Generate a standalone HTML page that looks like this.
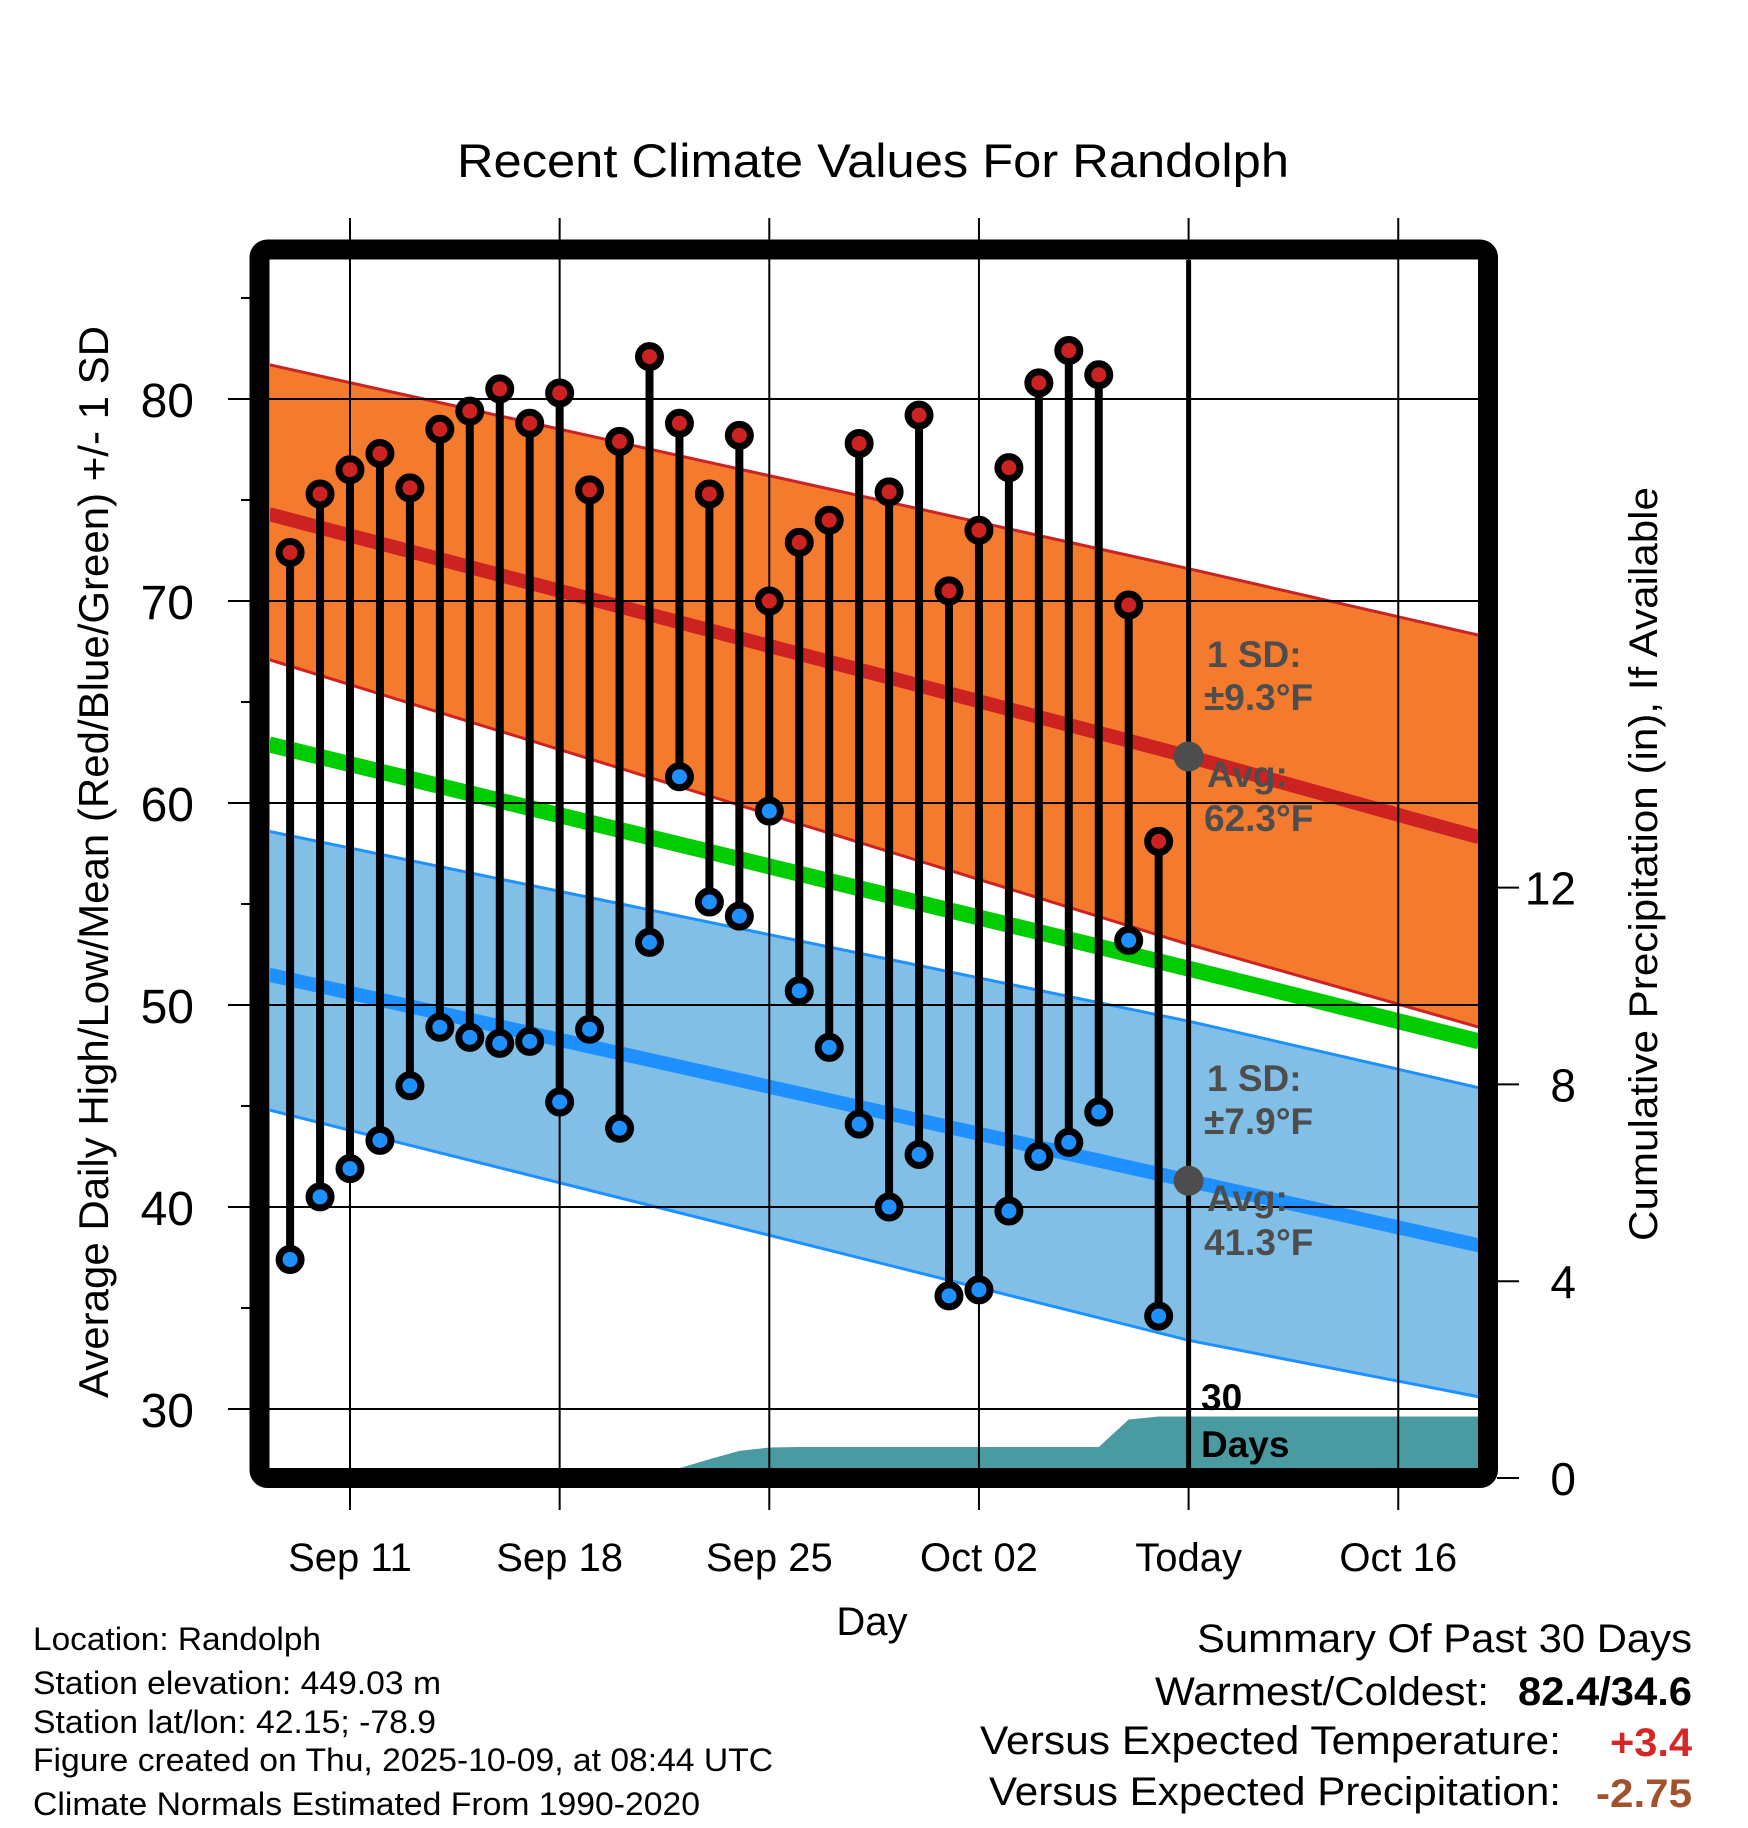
<!DOCTYPE html>
<html><head><meta charset="utf-8"><style>
html,body{margin:0;padding:0;background:#fff}
svg{display:block}
text{font-family:"Liberation Sans",Arial,sans-serif}
</style></head><body>
<svg id="chart" xmlns="http://www.w3.org/2000/svg" width="1748" height="1828" viewBox="0 0 1748 1828">
<defs><clipPath id="plotclip"><rect x="270" y="260" width="1208" height="1208"/></clipPath></defs>
<rect width="1748" height="1828" fill="#fff"/>
<g id="bands" clip-path="url(#plotclip)"></g>
<g id="precip" clip-path="url(#plotclip)"></g>
<g id="grid"></g>
<g id="marks"></g>
<g id="labels">
<text x="1207" y="667" font-size="37" font-weight="bold" fill="#4d4d4d">1 SD:</text>
<text x="1204" y="710" font-size="37" font-weight="bold" fill="#4d4d4d">±9.3°F</text>
<text x="1207" y="787" font-size="37" font-weight="bold" fill="#4d4d4d">Avg:</text>
<text x="1204" y="831" font-size="37" font-weight="bold" fill="#4d4d4d">62.3°F</text>
<text x="1207" y="1091" font-size="37" font-weight="bold" fill="#4d4d4d">1 SD:</text>
<text x="1204" y="1134" font-size="37" font-weight="bold" fill="#4d4d4d">±7.9°F</text>
<text x="1207" y="1211" font-size="37" font-weight="bold" fill="#4d4d4d">Avg:</text>
<text x="1204" y="1255" font-size="37" font-weight="bold" fill="#4d4d4d">41.3°F</text>
<text x="1201" y="1410" font-size="37" font-weight="bold" fill="#000">30</text>
<text x="1201" y="1457" font-size="37" font-weight="bold" fill="#000">Days</text>
</g>
<rect x="259.5" y="249.5" width="1228.5" height="1228.5" rx="8" fill="none" stroke="#000" stroke-width="20"/>
<g id="axes"></g>
<text x="873" y="177" font-size="47" text-anchor="middle" textLength="832" lengthAdjust="spacingAndGlyphs">Recent Climate Values For Randolph</text>
<text transform="translate(108,862) rotate(-90)" font-size="42" text-anchor="middle" textLength="1072" lengthAdjust="spacingAndGlyphs">Average Daily High/Low/Mean (Red/Blue/Green) +/- 1 SD</text>
<text transform="translate(1657,864) rotate(-90)" font-size="40" text-anchor="middle" textLength="754" lengthAdjust="spacingAndGlyphs">Cumulative Precipitation (in), If Available</text>
<text x="872" y="1635" font-size="40" text-anchor="middle">Day</text>
<g font-size="32">
<text x="33" y="1650" textLength="288" lengthAdjust="spacingAndGlyphs">Location: Randolph</text>
<text x="33" y="1694" textLength="408" lengthAdjust="spacingAndGlyphs">Station elevation: 449.03 m</text>
<text x="33" y="1733" textLength="403" lengthAdjust="spacingAndGlyphs">Station lat/lon: 42.15; -78.9</text>
<text x="33" y="1771" textLength="740" lengthAdjust="spacingAndGlyphs">Figure created on Thu, 2025-10-09, at 08:44 UTC</text>
<text x="33" y="1815" textLength="667" lengthAdjust="spacingAndGlyphs">Climate Normals Estimated From 1990-2020</text>
</g>
<g font-size="40">
<text x="1692" y="1652" text-anchor="end" textLength="495" lengthAdjust="spacingAndGlyphs">Summary Of Past 30 Days</text>
<text x="1489" y="1705" text-anchor="end" textLength="334" lengthAdjust="spacingAndGlyphs">Warmest/Coldest:</text>
<text x="1692" y="1705" text-anchor="end" font-weight="bold" textLength="174" lengthAdjust="spacingAndGlyphs">82.4/34.6</text>
<text x="1561" y="1754" text-anchor="end" textLength="581" lengthAdjust="spacingAndGlyphs">Versus Expected Temperature:</text>
<text x="1692" y="1756" text-anchor="end" font-weight="bold" fill="#d62728" textLength="82" lengthAdjust="spacingAndGlyphs">+3.4</text>
<text x="1561" y="1805" text-anchor="end" textLength="572" lengthAdjust="spacingAndGlyphs">Versus Expected Precipitation:</text>
<text x="1692" y="1807" text-anchor="end" font-weight="bold" fill="#a0522d" textLength="96" lengthAdjust="spacingAndGlyphs">-2.75</text>
</g>
</svg>
<script>
// ---- data ----
const dates = ["2025-09-09","2025-09-10","2025-09-11","2025-09-12","2025-09-13","2025-09-14","2025-09-15","2025-09-16","2025-09-17","2025-09-18","2025-09-19","2025-09-20","2025-09-21","2025-09-22","2025-09-23","2025-09-24","2025-09-25","2025-09-26","2025-09-27","2025-09-28","2025-09-29","2025-09-30","2025-10-01","2025-10-02","2025-10-03","2025-10-04","2025-10-05","2025-10-06","2025-10-07","2025-10-08"];
const highs = [72.4,75.3,76.5,77.3,75.6,78.5,79.4,80.5,78.8,80.3,75.5,77.9,82.1,78.8,75.3,78.2,70.0,72.9,74.0,77.8,75.4,79.2,70.5,73.5,76.6,80.8,82.4,81.2,69.8,58.1];
const lows = [37.4,40.5,41.9,43.3,46.0,48.9,48.4,48.1,48.2,45.2,48.8,43.9,53.1,61.3,55.1,54.4,59.6,50.7,47.9,44.1,40.0,42.6,35.6,35.9,39.8,42.5,43.2,44.7,53.2,34.6];
const precipCum = [0,0,0,0,0,0,0,0,0,0,0,0,0,0.2,0.38,0.55,0.62,0.63,0.63,0.63,0.63,0.63,0.63,0.63,0.63,0.63,0.63,0.63,1.19,1.25];
const normDates = ["2025-09-08","2025-10-09","2025-10-19"];
const normOffsets = [0.3,0,-0.3];
const hiUpper = [81.7,71.6,68.3];
const hiMean = [74.3,62.3,58.3];
const hiLower = [67.1,53.0,48.9];
const meanT = [62.9,51.8,48.2];
const loUpper = [58.6,49.2,45.9];
const loMean = [51.5,41.3,38.1];
const loLower = [44.8,33.4,30.6];
const todayDate = "2025-10-09";
const todayHiAvg = 62.3;
const todayLoAvg = 41.3;
const xTickDates = ["2025-09-11","2025-09-18","2025-09-25","2025-10-02","2025-10-09","2025-10-16"];
const xTickLabels = ["Sep 11","Sep 18","Sep 25","Oct 02","Today","Oct 16"];
const yTicks = [30,40,50,60,70,80];
const yMinor = [35,45,55,65,75,85];
const pTicks = [0,4,8,12];

// ---- scales ----
const NS = "http://www.w3.org/2000/svg";
const base = Date.UTC(2025,8,11);
function dayOf(s){const p=s.split("-");return (Date.UTC(+p[0],+p[1]-1,+p[2])-base)/86400000;}
function x(d){return 350+29.95*d;}
function y(t){return 399+(80-t)*20.2;}
function yp(p){return 1478-p*49.2;}
function mk(parent,tag,attrs){const e=document.createElementNS(NS,tag);for(const k in attrs)e.setAttribute(k,attrs[k]);parent.appendChild(e);return e;}
const nd = normDates.map((s,i)=>dayOf(s)+normOffsets[i]);
function pts(arr){return arr.map((v,i)=>x(nd[i]).toFixed(1)+","+y(v).toFixed(1));}

const bands=document.getElementById("bands");
let e;
e=mk(bands,"polygon",{points:pts(hiUpper).concat(pts(hiLower).reverse()).join(" "),fill:"#f47a2e"});


e=mk(bands,"polygon",{points:pts(loUpper).concat(pts(loLower).reverse()).join(" "),fill:"#82bfe6"});


[[hiUpper,"#cc2222",3,"high-upper-line"],[hiLower,"#cc2222",3,"high-lower-line"],[loUpper,"#1e90ff",3,"low-upper-line"],[loLower,"#1e90ff",3,"low-lower-line"],[hiMean,"#cc2222",14,"high-mean-line"],[loMean,"#1e90ff",14,"low-mean-line"],[meanT,"#00cc00",16,"mean-temp-line"]].forEach(a=>{
  const l=mk(bands,"polyline",{points:pts(a[0]).join(" "),fill:"none",stroke:a[1],"stroke-width":a[2]});
  
  
});

// precipitation
const pg=document.getElementById("precip");
let pp=[x(dayOf(dates[0])-2)+","+yp(0)];
dates.forEach((s,i)=>pp.push(x(dayOf(s)).toFixed(1)+","+yp(precipCum[i]).toFixed(1)));
pp.push("1480,"+yp(precipCum[precipCum.length-1]).toFixed(1));
pp.push("1480,"+yp(0));
e=mk(pg,"polygon",{points:pp.join(" "),fill:"#4a9aa2"});



// grid
const grid=document.getElementById("grid");
yTicks.forEach(t=>{
  const l=mk(grid,"line",{x1:228,x2:1478,y1:y(t),y2:y(t),stroke:"#000","stroke-width":2});
  
  
});
xTickDates.forEach(s=>{
  const l=mk(grid,"line",{x1:x(dayOf(s)),x2:x(dayOf(s)),y1:218,y2:1510,stroke:"#000","stroke-width":2});
  
  
});
e=mk(grid,"line",{x1:x(dayOf(todayDate)),x2:x(dayOf(todayDate)),y1:260,y2:1470,stroke:"#000","stroke-width":5});



// stems and markers
const marks=document.getElementById("marks");
dates.forEach((s,i)=>{
  const cx=x(dayOf(s));
  const st=mk(marks,"line",{x1:cx,x2:cx,y1:y(highs[i]),y2:y(lows[i]),stroke:"#000","stroke-width":8});
  
  
});
dates.forEach((s,i)=>{
  const cx=x(dayOf(s));
  const h=mk(marks,"circle",{cx:cx,cy:y(highs[i]),r:11,fill:"#cc2222",stroke:"#000","stroke-width":7});
  
  
  const lo=mk(marks,"circle",{cx:cx,cy:y(lows[i]),r:11,fill:"#1e90ff",stroke:"#000","stroke-width":7});
  
  
});
e=mk(marks,"circle",{cx:x(dayOf(todayDate)),cy:y(todayHiAvg),r:15,fill:"#4d4d4d"});


e=mk(marks,"circle",{cx:x(dayOf(todayDate)),cy:y(todayLoAvg),r:15,fill:"#4d4d4d"});



// axes
const ax=document.getElementById("axes");
yTicks.forEach(t=>{
  const tx=mk(ax,"text",{x:194,y:y(t)+18,"font-size":48,"text-anchor":"end"});
  tx.textContent=t;
  
  
});
yMinor.forEach(t=>{
  const l=mk(ax,"line",{x1:241,x2:250,y1:y(t),y2:y(t),stroke:"#000","stroke-width":2});
  
  
});
pTicks.forEach(p=>{
  const l=mk(ax,"line",{x1:1497,x2:1519,y1:yp(p),y2:yp(p),stroke:"#000","stroke-width":2});
  
  
  const tx=mk(ax,"text",{x:1576,y:yp(p)+17,"font-size":46,"text-anchor":"end"});
  tx.textContent=p;
  
  
});
xTickDates.forEach((s,i)=>{
  const tx=mk(ax,"text",{x:x(dayOf(s)),y:1571,"font-size":40,"text-anchor":"middle"});
  tx.textContent=xTickLabels[i];
  
  
});
</script>
</body></html>
